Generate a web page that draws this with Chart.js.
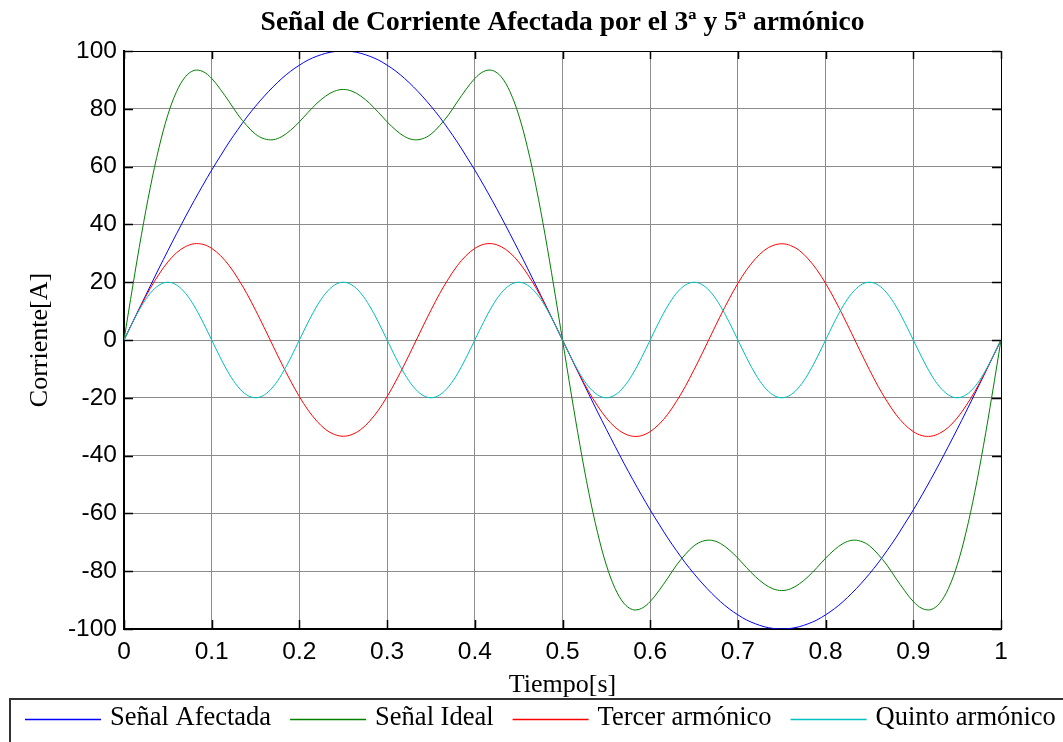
<!DOCTYPE html>
<html><head><meta charset="utf-8">
<script src="https://cdn.jsdelivr.net/npm/chart.js@4.4.1/dist/chart.umd.min.js"></script>
<style>html,body{margin:0;padding:0;background:#fff;overflow:hidden}canvas{display:block}</style>
</head><body>
<canvas id="c" width="1063" height="742"></canvas>
<script>
const time = [0,0.01,0.02,0.03,0.04,0.05,0.06,0.07,0.08,0.09,0.1,0.11,0.12,0.13,0.14,0.15,0.16,0.17,0.18,0.19,0.2,0.21,0.22,0.23,0.24,0.25,0.26,0.27,0.28,0.29,0.3,0.31,0.32,0.33,0.34,0.35,0.36,0.37,0.38,0.39,0.4,0.41,0.42,0.43,0.44,0.45,0.46,0.47,0.48,0.49,0.5,0.51,0.52,0.53,0.54,0.55,0.56,0.57,0.58,0.59,0.6,0.61,0.62,0.63,0.64,0.65,0.66,0.67,0.68,0.69,0.7,0.71,0.72,0.73,0.74,0.75,0.76,0.77,0.78,0.79,0.8,0.81,0.82,0.83,0.84,0.85,0.86,0.87,0.88,0.89,0.9,0.91,0.92,0.93,0.94,0.95,0.96,0.97,0.98,0.99,1];

const senalAfectada = [0,6.3,12.5,18.7,24.9,30.9,36.8,42.6,48.2,53.6,58.8,63.7,68.5,72.9,77.1,80.9,84.4,87.6,90.5,93.0,95.1,96.9,98.2,99.2,99.8,100,
99.8,99.2,98.2,96.9,95.1,93.0,90.5,87.6,84.4,80.9,77.1,72.9,68.5,63.7,58.8,53.6,48.2,42.6,36.8,30.9,24.9,18.7,12.5,6.3,0,
-6.3,-12.5,-18.7,-24.9,-30.9,-36.8,-42.6,-48.2,-53.6,-58.8,-63.7,-68.5,-72.9,-77.1,-80.9,-84.4,-87.6,-90.5,-93.0,-95.1,-96.9,-98.2,-99.2,-99.8,-100,
-99.8,-99.2,-98.2,-96.9,-95.1,-93.0,-90.5,-87.6,-84.4,-80.9,-77.1,-72.9,-68.5,-63.7,-58.8,-53.6,-48.2,-42.6,-36.8,-30.9,-24.9,-18.7,-12.5,-6.3,0];

const senalIdeal = [0,18.7,36.6,52.8,66.7,77.9,86.0,91.1,93.3,92.9,90.5,86.7,82.4,77.9,74.2,71.2,69.6,69.3,70.4,72.6,75.5,78.8,81.9,84.4,86.1,86.7,
86.1,84.4,81.9,78.8,75.5,72.6,70.4,69.3,69.6,71.2,74.2,77.9,82.4,86.7,90.5,92.9,93.3,91.1,86.0,77.9,66.7,52.8,36.6,18.7,0,
-18.7,-36.6,-52.8,-66.7,-77.9,-86.0,-91.1,-93.3,-92.9,-90.5,-86.7,-82.4,-77.9,-74.2,-71.2,-69.6,-69.3,-70.4,-72.6,-75.5,-78.8,-81.9,-84.4,-86.1,-86.7,
-86.1,-84.4,-81.9,-78.8,-75.5,-72.6,-70.4,-69.3,-69.6,-71.2,-74.2,-77.9,-82.4,-86.7,-90.5,-92.9,-93.3,-91.1,-86.0,-77.9,-66.7,-52.8,-36.6,-18.7,0];

const tercerArmonico = [0,6.2,12.3,17.9,22.8,27.0,30.2,32.3,33.3,33.1,31.7,29.2,25.7,21.2,16.1,10.3,4.2,-2.1,-8.3,-14.2,-19.6,-24.3,-28.1,-31.0,-32.7,-33.3,
-32.7,-31.0,-28.1,-24.3,-19.6,-14.2,-8.3,-2.1,4.2,10.3,16.1,21.2,25.7,29.2,31.7,33.1,33.3,32.3,30.2,27.0,22.8,17.9,12.3,6.2,0,
-6.2,-12.3,-17.9,-22.8,-27.0,-30.2,-32.3,-33.3,-33.1,-31.7,-29.2,-25.7,-21.2,-16.1,-10.3,-4.2,2.1,8.3,14.2,19.6,24.3,28.1,31.0,32.7,33.3,
32.7,31.0,28.1,24.3,19.6,14.2,8.3,2.1,-4.2,-10.3,-16.1,-21.2,-25.7,-29.2,-31.7,-33.1,-33.3,-32.3,-30.2,-27.0,-22.8,-17.9,-12.3,-6.2,0];

const quintoArmonico = [0,6.2,11.8,16.2,19.0,20,19.0,16.2,11.8,6.2,0,-6.2,-11.8,-16.2,-19.0,-20,-19.0,-16.2,-11.8,-6.2,
0,6.2,11.8,16.2,19.0,20,19.0,16.2,11.8,6.2,0,-6.2,-11.8,-16.2,-19.0,-20,-19.0,-16.2,-11.8,-6.2,
0,6.2,11.8,16.2,19.0,20,19.0,16.2,11.8,6.2,0,-6.2,-11.8,-16.2,-19.0,-20,-19.0,-16.2,-11.8,-6.2,
0,6.2,11.8,16.2,19.0,20,19.0,16.2,11.8,6.2,0,-6.2,-11.8,-16.2,-19.0,-20,-19.0,-16.2,-11.8,-6.2,
0,6.2,11.8,16.2,19.0,20,19.0,16.2,11.8,6.2,0,-6.2,-11.8,-16.2,-19.0,-20,-19.0,-16.2,-11.8,-6.2,0];

const xTickLabels = ['0','0.1','0.2','0.3','0.4','0.5','0.6','0.7','0.8','0.9','1'];
const yTickLabels = ['-100','-80','-60','-40','-20','0','20','40','60','80','100'];
const seriesNames = ['Señal Afectada','Señal Ideal','Tercer armónico','Quinto armónico'];
const seriesColors = ['#0000ff','#008000','#ff0000','#00bfbf'];
const chartTitle = 'Señal de Corriente Afectada por el 3ª y 5ª armónico';
const xTitle = 'Tiempo[s]';
const yTitle = 'Corriente[A]';

const seriesValues = [senalAfectada, senalIdeal, tercerArmonico, quintoArmonico];

const frameTicks = {
  id: 'frameTicks',
  afterDraw(chart) {
    const {ctx, chartArea: a, scales: {x, y}} = chart;
    ctx.save();
    ctx.strokeStyle = '#000';
    ctx.lineWidth = 1;
    ctx.beginPath();
    ctx.moveTo(a.left, a.top + 0.5); ctx.lineTo(a.right + 0.5, a.top + 0.5);
    ctx.lineTo(a.right + 0.5, a.bottom);
    ctx.stroke();
    ctx.lineWidth = 1.5;
    ctx.beginPath();
    x.ticks.forEach(t => {
      const px = Math.round(x.getPixelForValue(t.value)) + 0.5;
      ctx.moveTo(px, a.bottom); ctx.lineTo(px, a.bottom - 9);
      ctx.moveTo(px, a.top); ctx.lineTo(px, a.top + 8);
    });
    y.ticks.forEach(t => {
      const py = Math.round(y.getPixelForValue(t.value)) + 0.5;
      ctx.moveTo(a.left, py); ctx.lineTo(a.left + 9, py);
      ctx.moveTo(a.right, py); ctx.lineTo(a.right - 9, py);
    });
    ctx.stroke();
    ctx.restore();
  }
};

const boxLegend = {
  id: 'boxLegend',
  afterDraw(chart) {
    const ctx = chart.ctx;
    const top = chart.scales.x.bottom;
    ctx.save();
    ctx.strokeStyle = '#333';
    ctx.lineWidth = 2;
    ctx.strokeRect(10, top + 1, chart.width + 20, 80);
    ctx.font = '26.5px "Liberation Serif", "Times New Roman", serif';
    ctx.textBaseline = 'middle';
    ctx.fillStyle = '#000';
    const cy = top + 21;
    let cx = 25;
    chart.data.datasets.forEach(ds => {
      ctx.strokeStyle = ds.borderColor;
      ctx.lineWidth = 1.5;
      ctx.beginPath();
      ctx.moveTo(cx, cy + 0.5); ctx.lineTo(cx + 76, cy + 0.5);
      ctx.stroke();
      cx += 85;
      ctx.fillText(ds.label, cx, cy - 1);
      cx += ctx.measureText(ds.label).width + 19;
    });
    ctx.restore();
  }
};

new Chart(document.getElementById('c'), {
  type: 'line',
  data: {
    datasets: seriesValues.map((vals, i) => ({
      label: seriesNames[i],
      data: time.map((t, j) => ({x: t, y: vals[j]})),
      borderColor: seriesColors[i],
      backgroundColor: seriesColors[i],
      borderWidth: 1,
      pointRadius: 0,
      tension: 0.35,
      fill: false,
      order: 4 - i
    }))
  },
  options: {
    responsive: false,
    animation: false,
    devicePixelRatio: 1,
    layout: {padding: {left: 0, right: 62, top: 0, bottom: 44}},
    plugins: {
      legend: {display: false},
      tooltip: {enabled: false},
      title: {
        display: true,
        text: chartTitle,
        fullSize: false,
        color: '#000',
        font: {family: '"Liberation Serif", "Times New Roman", serif', size: 27.5, weight: 'bold', lineHeight: 1.2},
        padding: {top: 6, bottom: 12}
      }
    },
    scales: {
      x: {
        type: 'linear',
        min: 0, max: 1,
        ticks: {
          stepSize: 0.1,
          color: '#000',
          padding: 9,
          maxRotation: 0,
          font: {family: '"Liberation Sans", Arial, sans-serif', size: 24.5},
          callback: (v, i) => xTickLabels[i]
        },
        grid: {color: '#8c8c8c', lineWidth: 1, drawTicks: false},
        border: {display: true, color: '#000', width: 2},
        title: {
          display: true, text: xTitle, color: '#000',
          font: {family: '"Liberation Serif", "Times New Roman", serif', size: 26, lineHeight: 1.0},
          padding: {top: 0, bottom: 0}
        },
        afterFit: s => { s.height = 69; }
      },
      y: {
        type: 'linear',
        min: -100, max: 100,
        ticks: {
          stepSize: 20,
          color: '#000',
          padding: 7,
          font: {family: '"Liberation Sans", Arial, sans-serif', size: 24.5},
          callback: (v, i) => yTickLabels[i]
        },
        grid: {color: '#8c8c8c', lineWidth: 1, drawTicks: false},
        border: {display: true, color: '#000', width: 2},
        title: {
          display: true, text: yTitle, color: '#000',
          font: {family: '"Liberation Serif", "Times New Roman", serif', size: 26, lineHeight: 1.0},
          padding: {top: 27, bottom: 0}
        },
        afterFit: s => { s.width = 124; }
      }
    }
  },
  plugins: [frameTicks, boxLegend]
});
</script>
</body></html>
